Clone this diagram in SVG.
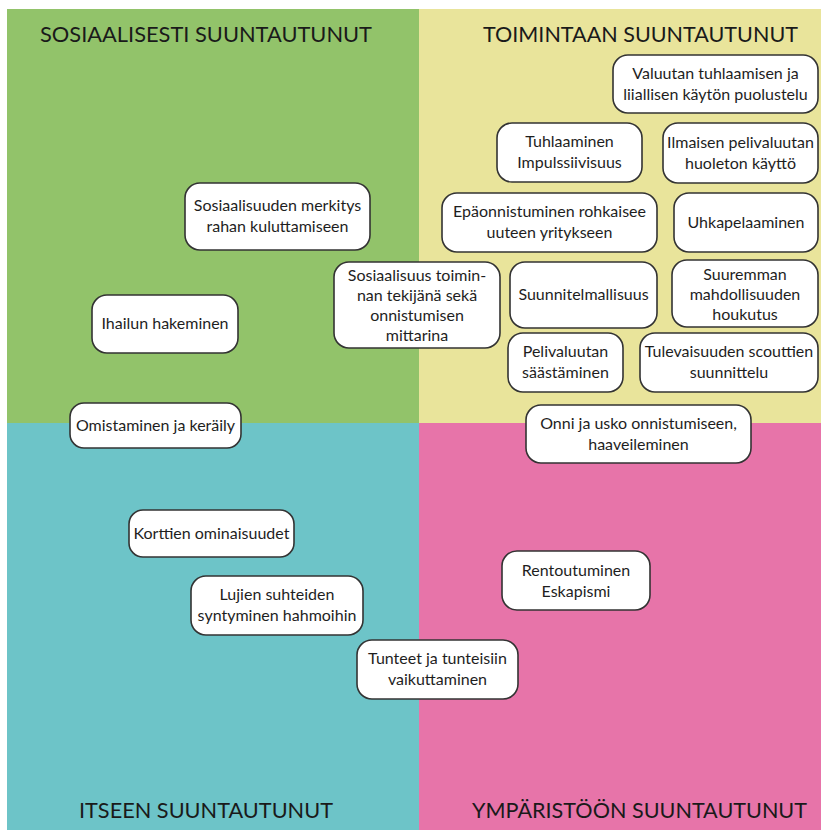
<svg xmlns="http://www.w3.org/2000/svg" width="821" height="830" viewBox="0 0 821 830">
<style>
.q-title{font-family:Lato,"Open Sans","Liberation Sans",sans-serif;font-size:22px;fill:#1a1a1a}
.box rect{fill:#fff;stroke:#333;stroke-width:1.6}
.box text{font-family:Lato,"Open Sans","Liberation Sans",sans-serif;font-size:16px;fill:#1e1e1e;text-anchor:middle}
</style>
<rect width="821" height="830" fill="#fff"/>
<g id="quadrants">
<rect x="7" y="9" width="412" height="414" fill="#92C36A"/>
<rect x="419" y="9" width="402" height="414" fill="#E9E49B"/>
<rect x="7" y="423" width="412" height="407" fill="#6DC4C8"/>
<rect x="419" y="423" width="402" height="407" fill="#E774A9"/>
</g>
<g id="titles">
<text class="q-title" x="40" y="42" textLength="332" lengthAdjust="spacingAndGlyphs">SOSIAALISESTI SUUNTAUTUNUT</text>
<text class="q-title" x="483" y="42" textLength="315" lengthAdjust="spacingAndGlyphs">TOIMINTAAN SUUNTAUTUNUT</text>
<text class="q-title" x="79" y="818" textLength="254" lengthAdjust="spacingAndGlyphs">ITSEEN SUUNTAUTUNUT</text>
<text class="q-title" x="472" y="818" textLength="335" lengthAdjust="spacingAndGlyphs">YMPÄRISTÖÖN SUUNTAUTUNUT</text>
</g>
<g id="connectors"/>
<g id="n1" class="box"><rect x="613" y="55" width="205" height="58" rx="15"/><text x="715.5" y="79">Valuutan tuhlaamisen ja</text><text x="715.5" y="100">liiallisen käytön puolustelu</text></g>
<g id="n2" class="box"><rect x="497" y="123" width="145" height="59" rx="15"/><text x="569.5" y="147">Tuhlaaminen</text><text x="569.5" y="168">Impulssiivisuus</text></g>
<g id="n3" class="box"><rect x="663" y="123" width="155" height="60" rx="15"/><text x="740.5" y="148">Ilmaisen pelivaluutan</text><text x="740.5" y="169">huoleton käyttö</text></g>
<g id="n4" class="box"><rect x="442" y="193" width="215" height="59" rx="15"/><text x="549.5" y="217">Epäonnistuminen rohkaisee</text><text x="549.5" y="238">uuteen yritykseen</text></g>
<g id="n5" class="box"><rect x="674" y="193" width="144" height="59" rx="15"/><text x="746" y="228">Uhkapelaaminen</text></g>
<g id="n6" class="box"><rect x="334" y="262" width="166" height="86" rx="15"/><text x="417" y="281">Sosiaalisuus toimin-</text><text x="417" y="301">nan tekijänä sekä</text><text x="417" y="321">onnistumisen</text><text x="417" y="341">mittarina</text></g>
<g id="n7" class="box"><rect x="510" y="262" width="147" height="66" rx="15"/><text x="583.5" y="300">Suunnitelmallisuus</text></g>
<g id="n8" class="box"><rect x="672" y="260" width="146" height="67" rx="15"/><text x="745" y="280">Suuremman</text><text x="745" y="300">mahdollisuuden</text><text x="745" y="320">houkutus</text></g>
<g id="n9" class="box"><rect x="508" y="333" width="115" height="59" rx="15"/><text x="565.5" y="357">Pelivaluutan</text><text x="565.5" y="378">säästäminen</text></g>
<g id="n10" class="box"><rect x="640" y="333" width="178" height="59" rx="15"/><text x="729" y="357">Tulevaisuuden scouttien</text><text x="729" y="378">suunnittelu</text></g>
<g id="n11" class="box"><rect x="526" y="405" width="225" height="58" rx="15"/><text x="638.5" y="429">Onni ja usko onnistumiseen,</text><text x="638.5" y="450">haaveileminen</text></g>
<g id="n12" class="box"><rect x="185" y="183" width="185" height="67" rx="15"/><text x="277.5" y="211">Sosiaalisuuden merkitys</text><text x="277.5" y="232">rahan kuluttamiseen</text></g>
<g id="n13" class="box"><rect x="92" y="295" width="146" height="58" rx="15"/><text x="165" y="329">Ihailun hakeminen</text></g>
<g id="n14" class="box"><rect x="70" y="403" width="171" height="45" rx="14"/><text x="155.5" y="431">Omistaminen ja keräily</text></g>
<g id="n15" class="box"><rect x="129" y="510" width="165" height="47" rx="14"/><text x="211.5" y="539">Korttien ominaisuudet</text></g>
<g id="n16" class="box"><rect x="191" y="576" width="172" height="59" rx="15"/><text x="277" y="600">Lujien suhteiden</text><text x="277" y="621">syntyminen hahmoihin</text></g>
<g id="n17" class="box"><rect x="357" y="640" width="161" height="59" rx="15"/><text x="437.5" y="664">Tunteet ja tunteisiin</text><text x="437.5" y="685">vaikuttaminen</text></g>
<g id="n18" class="box"><rect x="502" y="551" width="148" height="59" rx="15"/><text x="576" y="576">Rentoutuminen</text><text x="576" y="597">Eskapismi</text></g>
</svg>
